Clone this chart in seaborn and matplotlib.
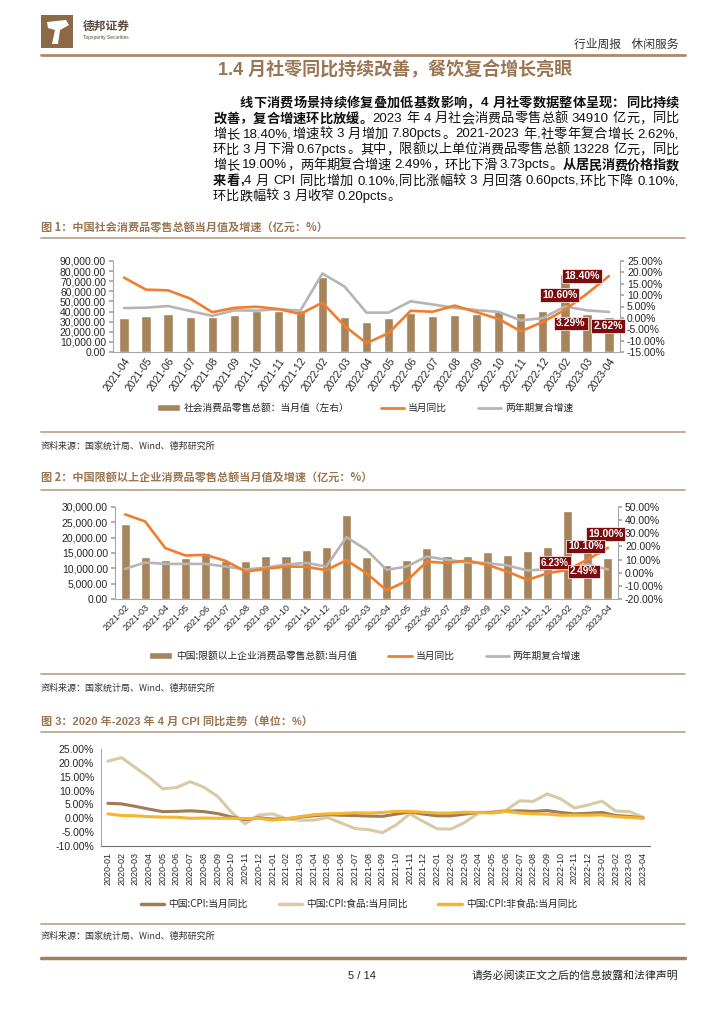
"""
Page 5 of the weekly report: retail sales (社零) and CPI charts, rebuilt as one 724x1024 page.
"""

import numpy as np
import pandas as pd
import seaborn as sns
import matplotlib.pyplot as plt
from matplotlib.patches import Rectangle, Patch, Polygon
from matplotlib.lines import Line2D
from matplotlib.ticker import FuncFormatter

# -----------------
# Data
# -----------------
months1 = ["2021-04", "2021-05", "2021-06", "2021-07", "2021-08", "2021-09", "2021-10",
           "2021-11", "2021-12", "2022-02", "2022-03", "2022-04", "2022-05", "2022-06",
           "2022-07", "2022-08", "2022-09", "2022-10", "2022-11", "2022-12", "2023-02",
           "2023-03", "2023-04"]
retail1 = [33153, 35945, 37586, 34925, 34395, 36833, 40454, 41043, 41269, 74426, 34233,
           29483, 33547, 38742, 35870, 36258, 37745, 40271, 38615, 40542, 77067, 37855, 34910]
yoy1 = [17.7, 12.4, 12.1, 8.5, 2.5, 4.4, 4.9, 3.9, 1.7, 6.7, -3.5, -11.1, -6.7, 3.1, 2.7,
        5.4, 2.5, -0.5, -5.9, -1.8, 3.5, 10.6, 18.4]
cagr1 = [4.3, 4.5, 5.2, 3.0, 0.9, 3.3, 3.2, 3.8, 3.2, 19.5, 13.8, 2.3, 2.3, 7.3, 5.9, 4.4,
         3.4, 2.6, -1.1, -0.1, 5.0, 3.29, 2.62]

months2 = ["2021-02", "2021-03", "2021-04", "2021-05", "2021-06", "2021-07", "2021-08",
           "2021-09", "2021-10", "2021-11", "2021-12", "2022-02", "2022-03", "2022-04",
           "2022-05", "2022-06", "2022-07", "2022-08", "2022-09", "2022-10", "2022-11",
           "2022-12", "2023-02", "2023-03", "2023-04"]
retail2 = [24500, 13700, 12800, 13300, 14900, 12500, 12400, 14000, 14000, 16000, 16800,
           27400, 13700, 11100, 12800, 16600, 13900, 14100, 15300, 14400, 15700, 17100,
           28700, 15500, 13228]
yoy2 = [44.4, 39.0, 18.7, 13.1, 13.6, 9.0, 0.9, 2.9, 4.7, 4.5, 1.9, 9.5, -0.4, -13.4,
        -6.2, 8.5, 7.3, 9.3, 6.0, 0.9, -5.5, -0.4, 2.2, 10.1, 19.0]
cagr2 = [2.9, 7.8, 6.7, 6.7, 6.7, 4.7, 2.4, 3.9, 6.2, 7.5, 4.7, 27.1, 17.4, 2.2, 4.7,
         12.3, 9.8, 7.8, 7.3, 5.5, 1.7, 2.7, 3.5, 6.23, 2.49]

months3 = [f"{y}-{m:02d}" for y in (2020, 2021, 2022, 2023) for m in range(1, 13)][:40]
cpi_total = [5.4, 5.2, 4.3, 3.3, 2.4, 2.5, 2.7, 2.4, 1.7, 0.5, -0.5, 0.2,
             -0.3, -0.2, 0.4, 0.9, 1.3, 1.1, 1.0, 0.8, 0.7, 1.5, 2.3, 1.5,
             0.9, 0.9, 1.5, 2.1, 2.1, 2.5, 2.7, 2.5, 2.8, 2.1, 1.6, 1.8,
             2.1, 1.0, 0.7, 0.1]
cpi_food = [20.6, 21.9, 18.3, 14.8, 10.6, 11.1, 13.2, 11.2, 7.9, 2.2, -2.0, 1.2,
            1.6, -0.2, -0.7, -0.7, 0.3, -1.7, -3.7, -4.1, -5.2, -2.4, 1.6, -1.2,
            -3.8, -3.9, -1.5, 1.9, 2.3, 2.9, 6.3, 6.1, 8.8, 7.0, 3.7, 4.8,
            6.2, 2.6, 2.4, 0.4]
cpi_nonfood = [1.6, 1.0, 0.9, 0.6, 0.4, 0.4, 0.0, 0.1, 0.0, 0.0, -0.1, 0.0,
               -0.7, -0.2, 0.6, 1.3, 1.6, 1.7, 2.0, 1.9, 2.1, 2.5, 2.5, 2.2,
               1.9, 1.9, 2.2, 2.1, 1.9, 2.5, 1.9, 1.6, 1.5, 1.1, 1.1, 1.1,
               1.2, 0.6, 0.3, 0.0]

legend1 = ["社会消费品零售总额：当月值（左右）", "当月同比", "两年期复合增速"]
legend2 = ["中国:限额以上企业消费品零售总额:当月值", "当月同比", "两年期复合增速"]
legend3 = ["中国:CPI:当月同比", "中国:CPI:食品:当月同比", "中国:CPI:非食品:当月同比"]

# -----------------
# Style
# -----------------
sns.set_theme(style="white")
plt.rcParams["font.family"] = ["Liberation Sans", "Noto Sans CJK SC", "DejaVu Sans"]
CJK = ["Noto Sans CJK SC", "DejaVu Sans"]

BROWN = "#9a7552"
BAR = "#a6855c"
ORANGE = "#f07e2e"
GREY = "#b5b5b5"
TAG = "#7d0c0e"
RULE = "#b9a088"
AXC = "#a6a6a6"
C_TOTAL = "#9e7c57"
C_FOOD = "#d8caa4"
C_NONFOOD = "#f5b52e"

W, H = 724, 1024
fig = plt.figure(figsize=(W / 100, H / 100), dpi=100)
fig.patch.set_facecolor("white")
renderer = fig.canvas.get_renderer()


def fx(x):
    return x / W


def fy(y):
    return 1 - y / H


def hrule(y, x0=41, x1=685, lw=1.2, color=RULE):
    fig.add_artist(Line2D([fx(x0), fx(x1)], [fy(y), fy(y)], transform=fig.transFigure,
                          color=color, lw=lw))


# -----------------
# Header
# -----------------
fig.add_artist(Rectangle((fx(41), fy(48)), 32 / W, 33 / H, transform=fig.transFigure,
                         color="#8c6a48", lw=0))
fig.add_artist(Polygon([[fx(47), fy(22)], [fx(66), fy(20)], [fx(69), fy(25)], [fx(60), fy(30)],
                        [fx(58), fy(44)], [fx(52), fy(44)], [fx(55), fy(30)], [fx(48), fy(28)]],
                       transform=fig.transFigure, color="white", lw=0))
fig.text(fx(83), fy(26), "德邦证券", family=CJK, fontsize=8.5, fontweight="bold", color="#5a4a3c",
         va="center")
fig.text(fx(83), fy(37), "Topsperity Securities", fontsize=3.5, color="#5a4a3c", va="center")
fig.text(fx(678), fy(44), "行业周报    休闲服务", family=CJK, fontsize=8.5, color="#333333",
         ha="right", va="center")
hrule(55, lw=2.0, color="#a88a6c")
fig.text(fx(395), fy(70), "1.4 月社零同比持续改善，餐饮复合增长亮眼", fontsize=13,
         fontweight="bold", color=BROWN, ha="center", va="center")

# -----------------
# Paragraph (justified by hand)
# -----------------
EM = 9.5 * 100 / 72
para = [
    (240, True, [("线下消费场景持续修复叠加低基数影响，4 月社零数据整体呈现：同比持续", "bold")]),
    (213, True, [("改善，复合增速环比放缓。", "bold"),
                 ("2023 年 4 月社会消费品零售总额 34910 亿元，同比", "normal")]),
    (213, True, [("增长 18.40%,增速较 3 月增加 7.80pcts。2021-2023 年,社零年复合增长 2.62%,", "normal")]),
    (213, True, [("环比 3 月下滑 0.67pcts。其中，限额以上单位消费品零售总额 13228 亿元，同比", "normal")]),
    (213, True, [("增长 19.00%，两年期复合增速 2.49%，环比下滑 3.73pcts。", "normal"),
                 ("从居民消费价格指数", "bold")]),
    (213, True, [("来看,", "bold"),
                 ("4 月 CPI 同比增加 0.10%,同比涨幅较 3 月回落 0.60pcts,环比下降 0.10%,", "normal")]),
    (213, False, [("环比跌幅较 3 月收窄 0.20pcts。", "normal")]),
]


def tokens_of(runs):
    out = []
    for s, w in runs:
        buf = ""
        for ch in s:
            if ord(ch) < 128 and ch != " ":
                buf += ch
                continue
            if buf:
                out.append((buf, w))
                buf = ""
            out.append((ch, w))
        if buf:
            out.append((buf, w))
    return out


y = 103
for x0, justify, runs in para:
    toks = tokens_of(runs)
    items = []
    for s, w in toks:
        if s == " ":
            items.append((None, w, 0.28 * EM))
        elif ord(s[0]) >= 128:
            t = fig.text(0, 0, s, fontsize=9.5, fontweight=w, va="center", family=CJK)
            items.append((t, w, EM))
        else:
            t = fig.text(0, 0, s, fontsize=9.5, fontweight=w, va="center")
            items.append((t, w, t.get_window_extent(renderer).width + 0.4))
    natural = sum(it[2] for it in items)
    gap = (679 - x0 - natural) / (len(items) - 1) if justify else 0
    x = x0
    for t, w, wd in items:
        if t is not None:
            t.set_position((fx(x), fy(y)))
            t.set_color("#111111")
        x += wd + gap
    y += 15.6


# -----------------
# Helpers for the two bar + line charts
# -----------------
def pct(v, _):
    return f"{v:.2f}%"


def style_cat_axis(ax, labels, rot, size):
    n = len(labels)
    ax.set_xlim(-0.5, n - 0.5)
    ax.set_xticks(np.arange(n))
    ax.set_xticklabels(labels, rotation=rot, ha="right", rotation_mode="anchor", fontsize=size)
    ax.set_xticks(np.arange(n + 1) - 0.5, minor=True)
    ax.tick_params(axis="x", which="major", length=0, pad=3)
    ax.tick_params(axis="x", which="minor", length=3, color=AXC, direction="out")
    ax.set_xlabel("")


def bar_line_chart(rect, cats, bars, yoy, cagr, lylim, lystep, rylim, rystep, barw, rot, xsize):
    ax = fig.add_axes(rect)
    sns.barplot(x=cats, y=bars, ax=ax, color=BAR, saturation=1, width=barw)
    ax.set_ylim(*lylim)
    ax.set_yticks(np.arange(lylim[0], lylim[1] + 1, lystep))
    ax.yaxis.set_major_formatter(FuncFormatter(lambda v, _: f"{v:,.2f}"))
    ax.tick_params(axis="y", length=3, color=AXC, direction="out", labelsize=7.5, pad=2)
    for s in ("top", "right"):
        ax.spines[s].set_visible(False)
    for s in ("left", "bottom"):
        ax.spines[s].set_color(AXC)
        ax.spines[s].set_linewidth(0.8)

    axr = ax.twinx()
    idx = np.arange(len(cats))
    sns.lineplot(x=idx, y=cagr, ax=axr, color=GREY, linewidth=1.9, sort=False)
    sns.lineplot(x=idx, y=yoy, ax=axr, color=ORANGE, linewidth=1.9, sort=False)
    axr.set_ylim(*rylim)
    axr.set_yticks(np.arange(rylim[0], rylim[1] + 0.1, rystep))
    axr.yaxis.set_major_formatter(FuncFormatter(pct))
    axr.tick_params(axis="y", length=3, color=AXC, direction="out", labelsize=7.5, pad=2)
    for s in ("top", "left", "bottom"):
        axr.spines[s].set_visible(False)
    axr.spines["right"].set_color(AXC)
    axr.spines["right"].set_linewidth(0.8)
    axr.set_ylabel("")
    style_cat_axis(ax, cats, rot, xsize)
    axr.set_xlim(-0.5, len(cats) - 0.5)
    return ax, axr


def tag(ax, i, v, dx, dy, size=7.5):
    ax.annotate(f"{v:.2f}%", xy=(i, v), xytext=(dx, dy), textcoords="offset pixels",
                ha="center", va="center", color="white", fontsize=size, fontweight="bold",
                bbox=dict(boxstyle="square,pad=0.18", fc=TAG, ec="white", lw=0.5), zorder=5)


def chart_legend(cx, cy, labels, handles, size=7):
    fig.legend(handles, labels, loc="center", bbox_to_anchor=(fx(cx), fy(cy)), ncol=3,
               frameon=False, prop={"family": CJK, "size": size}, handlelength=2.4,
               handleheight=0.6, handletextpad=0.4, columnspacing=3.2, borderaxespad=0)


# -----------------
# Chart 1
# -----------------
fig.text(fx(41), fy(228), "图 1：中国社会消费品零售总额当月值及增速（亿元：%）", family=CJK,
         fontsize=8, fontweight="bold", color=BROWN, va="center")
hrule(238)
ax1, ax1r = bar_line_chart([fx(113), fy(352), (620 - 113) / W, (352 - 261) / H],
                           months1, retail1, yoy1, cagr1, (0, 90000), 10000, (-15, 25), 5,
                           0.42, 55, 7.5)
n1 = len(months1)
tag(ax1r, n1 - 1, yoy1[-1], -27, 0)
tag(ax1r, n1 - 2, yoy1[-2], -27, -1)
tag(ax1r, n1 - 2, cagr1[-2], -16, -13)
tag(ax1r, n1 - 1, cagr1[-1], -1, -14)
chart_legend(365, 408, legend1,
             [Patch(fc=BAR), Line2D([], [], color=ORANGE, lw=2), Line2D([], [], color=GREY, lw=2)])
hrule(432)
fig.text(fx(41), fy(446), "资料来源：国家统计局、Wind、德邦研究所", family=CJK, fontsize=6.5,
         color="#333333", va="center")

# -----------------
# Chart 2
# -----------------
fig.text(fx(41), fy(478), "图 2：中国限额以上企业消费品零售总额当月值及增速（亿元：%）", family=CJK,
         fontsize=8, fontweight="bold", color=BROWN, va="center")
hrule(490)
ax2, ax2r = bar_line_chart([fx(115), fy(599), (618 - 115) / W, (599 - 507) / H],
                           months2, retail2, yoy2, cagr2, (0, 30000), 5000, (-20, 50), 10,
                           0.45, 45, 6.5)
n2 = len(months2)
tag(ax2r, n2 - 1, yoy2[-1], -2, 14)
tag(ax2r, n2 - 2, yoy2[-2], -2, 13)
tag(ax2r, n2 - 2, cagr2[-2], -33, 2, size=7)
tag(ax2r, n2 - 1, cagr2[-1], -24, -2, size=7)
chart_legend(365, 656, legend2,
             [Patch(fc=BAR), Line2D([], [], color=ORANGE, lw=2), Line2D([], [], color=GREY, lw=2)])
hrule(674)
fig.text(fx(41), fy(688), "资料来源：国家统计局、Wind、德邦研究所", family=CJK, fontsize=6.5,
         color="#333333", va="center")

# -----------------
# Chart 3: CPI lines
# -----------------
fig.text(fx(41), fy(722), "图 3：2020 年-2023 年 4 月 CPI 同比走势（单位：%）", fontsize=8,
         fontweight="bold", color=BROWN, va="center")
hrule(732)
ax3 = fig.add_axes([fx(101), fy(846), (650 - 101) / W, (846 - 749) / H])
df3 = pd.DataFrame({"idx": np.arange(len(months3)), legend3[0]: cpi_total,
                    legend3[1]: cpi_food, legend3[2]: cpi_nonfood})
long3 = df3.melt(id_vars="idx", var_name="series", value_name="yoy")
sns.lineplot(data=long3, x="idx", y="yoy", hue="series",
             hue_order=[legend3[1], legend3[0], legend3[2]],
             palette={legend3[0]: C_TOTAL, legend3[1]: C_FOOD, legend3[2]: C_NONFOOD},
             linewidth=2.2, legend=False, ax=ax3)
ax3.set_ylim(-10, 25)
ax3.set_yticks(np.arange(-10, 26, 5))
ax3.yaxis.set_major_formatter(FuncFormatter(pct))
ax3.tick_params(axis="y", length=3, color=AXC, direction="out", labelsize=7.5, pad=2)
ax3.set_ylabel("")
n3 = len(months3)
ax3.set_xlim(-0.5, n3 - 0.5)
ax3.set_xticks(np.arange(n3))
ax3.set_xticklabels(months3, rotation=90, ha="center", va="top", fontsize=6.5)
ax3.set_xticks(np.arange(n3 + 1) - 0.5, minor=True)
ax3.tick_params(axis="x", which="major", length=0, pad=4)
ax3.tick_params(axis="x", which="minor", length=3, color="#707070", direction="out")
ax3.set_xlabel("")
for s in ("top", "right"):
    ax3.spines[s].set_visible(False)
ax3.spines["left"].set_color(AXC)
ax3.spines["bottom"].set_color("#707070")
for s in ("left", "bottom"):
    ax3.spines[s].set_linewidth(0.8)
chart_legend(359, 904, legend3,
             [Line2D([], [], color=C_TOTAL, lw=2.5), Line2D([], [], color=C_FOOD, lw=2.5),
              Line2D([], [], color=C_NONFOOD, lw=2.5)])
hrule(924)
fig.text(fx(41), fy(936), "资料来源：国家统计局、Wind、德邦研究所", family=CJK, fontsize=6.5,
         color="#333333", va="center")

# -----------------
# Footer
# -----------------
hrule(958, lw=2.5, color="#a0825f")
fig.text(fx(362), fy(976), "5 / 14", fontsize=8, color="#222222", ha="center", va="center")
fig.text(fx(678), fy(976), "请务必阅读正文之后的信息披露和法律声明", family=CJK, fontsize=7.8,
         color="#222222", ha="right", va="center")

fig.savefig("out.png", dpi=100)
plt.close(fig)
print("Saved out.png")
